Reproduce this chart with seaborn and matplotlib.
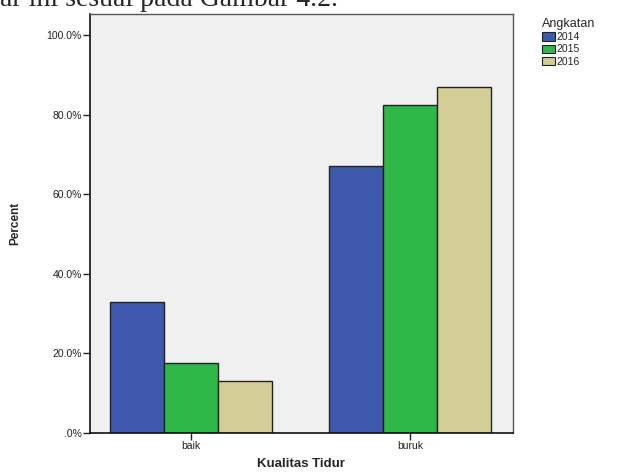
import pandas as pd
import numpy as np
import matplotlib
matplotlib.use('Agg')
import matplotlib.pyplot as plt
import seaborn as sns
from matplotlib.ticker import FuncFormatter

# Data
kategori = ['baik', 'buruk']
angkatan = ['2014', '2015', '2016']
persen_2014 = [32.9, 67.1]
persen_2015 = [17.5, 82.5]
persen_2016 = [13.1, 86.9]
warna = ['#3e58ac', '#2eb848', '#d3ce97']

df = pd.DataFrame({
    'Kualitas Tidur': kategori * 3,
    'Angkatan': [a for a in angkatan for _ in kategori],
    'Percent': persen_2014 + persen_2015 + persen_2016,
})

sns.set_theme(style='white')
plt.rcParams['font.family'] = ['Liberation Sans', 'DejaVu Sans']

fig = plt.figure(figsize=(6.19, 4.74), dpi=100)
ax = fig.add_axes([90 / 619, 41 / 474, 422.7 / 619, 419 / 474])
ax.set_facecolor('#f0f0f0')

sns.barplot(data=df, x='Kualitas Tidur', y='Percent', hue='Angkatan',
            palette=warna, width=0.74, edgecolor='#222222', linewidth=1.0,
            saturation=1, ax=ax)

ax.set_xlim(-0.46, 1.468)
ax.set_ylim(0, 105.3)
ax.set_yticks([0, 20, 40, 60, 80, 100])
ax.yaxis.set_major_formatter(FuncFormatter(lambda v, p: '.0%' if v == 0 else f'{v:.1f}%'))
ax.tick_params(axis='both', which='both', length=5, width=1, color='#222222',
               labelsize=7.5, labelcolor='#222222', pad=1, left=True, bottom=True)

for s in ['left', 'bottom']:
    ax.spines[s].set_color('#111111')
    ax.spines[s].set_linewidth(1.2)
for s in ['top', 'right']:
    ax.spines[s].set_color('#555555')
    ax.spines[s].set_linewidth(1.0)

ax.set_xlabel('Kualitas Tidur', fontsize=9.5, fontweight='bold', labelpad=5)
ax.set_ylabel('Percent', fontsize=8.5, fontweight='bold', labelpad=18)

# legend outside on the right
ax.get_legend().remove()
handles = [plt.Rectangle((0, 0), 1, 1, facecolor=c, edgecolor='#222222', linewidth=0.8) for c in warna]
leg = fig.legend(handles, angkatan, title='Angkatan', loc='upper left',
                 bbox_to_anchor=(534 / 619, 1 - 10 / 474), frameon=False,
                 fontsize=7.5, title_fontsize=9, handlelength=1.2, handleheight=0.9,
                 handletextpad=0.2, labelspacing=0.2, borderpad=0.3)
leg._legend_box.align = 'left'

# clipped line of document text above the chart
fig.text(0.0, 1.0, 'ar ini sesuai pada Gambar 4.2.', fontsize=20,
         family=['Liberation Serif', 'DejaVu Serif'], ha='left', va='center')

fig.savefig('out.png', dpi=100)
